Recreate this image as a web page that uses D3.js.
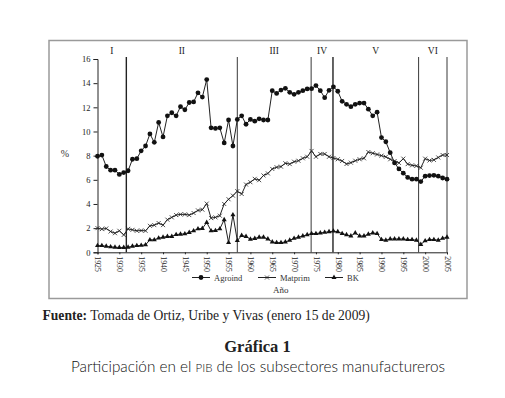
<!DOCTYPE html>
<html lang="es">
<head>
<meta charset="UTF-8">
<title>Gráfica 1</title>
<script src="https://cdn.jsdelivr.net/npm/d3@7/dist/d3.min.js"></script>
<style>
  * { margin: 0; padding: 0; }
  body { background: #fff; width: 505px; height: 398px; overflow: hidden; }
  svg { display: block; }
</style>
</head>
<body>
<div id="chart"></div>
<script>
// años 1925..2005
var years = d3.range(1925, 2006);

var agroind = [7.95, 8.05, 7.1, 6.8, 6.8, 6.45, 6.6, 6.75, 7.7, 7.75,
  8.4, 8.8, 9.8, 9.1, 10.75, 9.55, 11.3, 11.55, 11.3, 12.05,
  11.8, 12.4, 12.45, 13.2, 12.85, 14.3, 10.3, 10.25, 10.3, 9.05,
  10.95, 8.8, 11.0, 11.3, 10.6, 11.0, 10.85, 11.05, 10.95, 10.95,
  13.38, 13.15, 13.43, 13.57, 13.24, 13.08, 13.24, 13.38, 13.52, 13.54,
  13.8, 13.38, 12.8, 13.41, 13.7, 13.33, 12.5, 12.25, 12.05, 12.25,
  12.35, 12.35, 11.85, 11.3, 11.6, 9.5, 9.15, 8.25, 7.4, 6.9,
  6.55, 6.2, 6.05, 6.05, 5.85, 6.3, 6.35, 6.37, 6.3, 6.15, 6.05];

var matprim = [2.0, 1.92, 1.97, 1.72, 1.58, 1.78, 1.44, 1.94, 1.86, 1.78,
  1.8, 1.78, 2.19, 2.25, 2.42, 2.25, 2.7, 2.89, 3.08, 3.14,
  3.14, 3.08, 3.25, 3.47, 3.53, 4.03, 2.83, 2.89, 3.03, 4.0,
  4.39, 4.69, 5.06, 4.83, 5.61, 5.8, 6.08, 5.97, 6.36, 6.53,
  6.9, 7.04, 7.09, 7.37, 7.3, 7.5, 7.58, 7.78, 7.91, 8.39,
  7.91, 8.14, 8.14, 7.91, 7.8, 7.7, 7.56, 7.31, 7.42, 7.58,
  7.7, 7.78, 8.3, 8.2, 8.1, 8.0, 7.9, 7.7, 7.55, 7.4,
  7.75, 7.3, 7.2, 7.15, 7.0, 7.75, 7.6, 7.65, 7.85, 8.05, 8.05];

var bk = [0.55, 0.55, 0.5, 0.45, 0.42, 0.4, 0.4, 0.42, 0.5, 0.55,
  0.57, 0.62, 1.03, 1.03, 1.17, 1.25, 1.31, 1.31, 1.47, 1.5,
  1.53, 1.64, 1.78, 1.94, 1.97, 2.47, 1.78, 1.8, 1.94, 2.7,
  0.8, 3.1, 0.97, 1.39, 1.31, 1.08, 1.14, 1.25, 1.25, 1.1,
  0.85, 0.8, 0.8, 0.85, 1.0, 1.15, 1.25, 1.35, 1.45, 1.55,
  1.55, 1.6, 1.65, 1.7, 1.75, 1.7, 1.55, 1.45, 1.35, 1.6,
  1.35, 1.35, 1.5, 1.6, 1.55, 1.05, 1.0, 1.1, 1.1, 1.1,
  1.1, 1.05, 1.05, 1.0, 0.65, 0.95, 1.05, 1.05, 1.0, 1.15, 1.25];

// periodos
var periodLines = [1931.6, 1957, 1973.9, 1978.9, 1998.5];
var periodNames = ['I', 'II', 'III', 'IV', 'V', 'VI'];
var yTicks = d3.range(0, 17, 2);
var xTicks = d3.range(1925, 2006, 5);

var W = 505, H = 398;
var svg = d3.select('#chart').append('svg')
  .attr('width', W).attr('height', H);

svg.append('rect').attr('width', W).attr('height', H).attr('fill', '#fff');

// marco gris
svg.append('rect')
  .attr('x', 49).attr('y', 40.5)
  .attr('width', 418).attr('height', 258)
  .attr('fill', 'none').attr('stroke', '#9a9a9a').attr('stroke-width', 1.5);

var x = d3.scaleLinear().domain([1925, 2005]).range([97.5, 447]);
var y = d3.scaleLinear().domain([0, 16]).range([252.3, 59]);

var serif = '"Liberation Serif", "DejaVu Serif", serif';

// eje y
var yAxis = svg.append('g')
  .attr('transform', 'translate(' + x(1925) + ',0)')
  .call(d3.axisLeft(y).tickValues(yTicks).tickSize(4).tickPadding(3).tickFormat(d3.format('d')));
yAxis.select('.domain').attr('stroke', '#222');
yAxis.selectAll('line').attr('stroke', '#222');
yAxis.selectAll('text').attr('font-family', serif).attr('font-size', '8.5px').attr('fill', '#222');

// eje x
var xAxis = svg.append('g')
  .attr('transform', 'translate(0,' + y(0) + ')')
  .call(d3.axisBottom(x).tickValues(xTicks).tickSize(2).tickFormat(d3.format('d')));
xAxis.select('.domain').attr('stroke', '#222');
xAxis.selectAll('line').attr('stroke', '#222');
xAxis.selectAll('text')
  .attr('font-family', serif).attr('font-size', '7.8px').attr('fill', '#222')
  .attr('text-anchor', 'start')
  .attr('transform', 'rotate(90)')
  .attr('x', 4).attr('y', 0).attr('dy', '0.35em');

// lineas verticales de periodos + borde derecho
var vlines = periodLines.concat([2005]);
svg.selectAll('line.period').data(vlines).enter().append('line')
  .attr('class', 'period')
  .attr('x1', function (d) { return x(d); })
  .attr('x2', function (d) { return x(d); })
  .attr('y1', y(16) - 2).attr('y2', y(0))
  .attr('stroke', '#222')
  .attr('stroke-width', function (d, i) { return (i === 0 || i === 3) ? 1.4 : 0.9; });

// nombres de periodos centrados
var bounds = [1925].concat(periodLines).concat([2005]);
svg.selectAll('text.period').data(periodNames).enter().append('text')
  .attr('class', 'period')
  .attr('x', function (d, i) { return (x(bounds[i]) + x(bounds[i + 1])) / 2; })
  .attr('y', 54)
  .attr('text-anchor', 'middle')
  .attr('font-family', serif).attr('font-size', '9.5px').attr('fill', '#222')
  .text(function (d) { return d; });

svg.append('text').attr('x', 65).attr('y', 157)
  .attr('text-anchor', 'middle')
  .attr('font-family', serif).attr('font-size', '10px').attr('fill', '#333')
  .text('%');

// series
var line = d3.line()
  .x(function (d, i) { return x(years[i]); })
  .y(function (d) { return y(d); });

function drawSeries(data, marker) {
  svg.append('path').datum(data)
    .attr('d', line)
    .attr('fill', 'none').attr('stroke', '#222').attr('stroke-width', 1);
  var g = svg.append('g');
  data.forEach(function (v, i) {
    marker(g, x(years[i]), y(v));
  });
}

function circleMarker(g, cx, cy) {
  g.append('circle').attr('cx', cx).attr('cy', cy).attr('r', 2.4).attr('fill', '#111');
}
function crossMarker(g, cx, cy) {
  var s = 2;
  g.append('path')
    .attr('d', 'M' + (cx - s) + ',' + (cy - s) + 'L' + (cx + s) + ',' + (cy + s) +
      'M' + (cx - s) + ',' + (cy + s) + 'L' + (cx + s) + ',' + (cy - s))
    .attr('stroke', '#222').attr('stroke-width', 0.8).attr('fill', 'none');
}
var tri = d3.symbol().type(d3.symbolTriangle).size(11);
function triMarker(g, cx, cy) {
  g.append('path').attr('d', tri()).attr('transform', 'translate(' + cx + ',' + cy + ')').attr('fill', '#111');
}

drawSeries(matprim, crossMarker);
drawSeries(bk, triMarker);
drawSeries(agroind, circleMarker);

// leyenda
var legend = [
  { name: 'Agroind', x0: 192, marker: circleMarker },
  { name: 'Matprim', x0: 258, marker: crossMarker },
  { name: 'BK', x0: 325, marker: triMarker }
];
var ly = 277.5;
legend.forEach(function (d) {
  svg.append('line').attr('x1', d.x0).attr('x2', d.x0 + 18)
    .attr('y1', ly).attr('y2', ly).attr('stroke', '#222').attr('stroke-width', 1);
  d.marker(svg, d.x0 + 9, ly);
  svg.append('text').attr('x', d.x0 + 22).attr('y', ly + 3)
    .attr('font-family', serif).attr('font-size', '8.5px').attr('fill', '#333')
    .text(d.name);
});

svg.append('text').attr('x', 273).attr('y', 293)
  .attr('font-family', serif).attr('font-size', '9px').attr('fill', '#333')
  .text('Año');

// fuente y titulo
var fuente = svg.append('text').attr('x', 42.5).attr('y', 320)
  .attr('font-family', serif).attr('font-size', '13.6px').attr('fill', '#222');
fuente.append('tspan').attr('font-weight', 'bold').text('Fuente:');
fuente.append('tspan').text(' Tomada de Ortiz, Uribe y Vivas (enero 15 de 2009)');

svg.append('text').attr('x', 257.5).attr('y', 352)
  .attr('text-anchor', 'middle')
  .attr('font-family', serif).attr('font-size', '16.5px').attr('font-weight', 'bold').attr('fill', '#222')
  .text('Gráfica 1');

var sub = svg.append('text').attr('x', 258).attr('y', 372)
  .attr('text-anchor', 'middle')
  .attr('font-family', 'Lato, "Open Sans", sans-serif').attr('font-size', '15.3px').attr('font-weight', 300).attr('fill', '#111');
sub.append('tspan').text('Participación en el ');
sub.append('tspan').attr('font-size', '11.5px').text('PIB');
sub.append('tspan').text(' de los subsectores manufactureros');
</script>
</body>
</html>
